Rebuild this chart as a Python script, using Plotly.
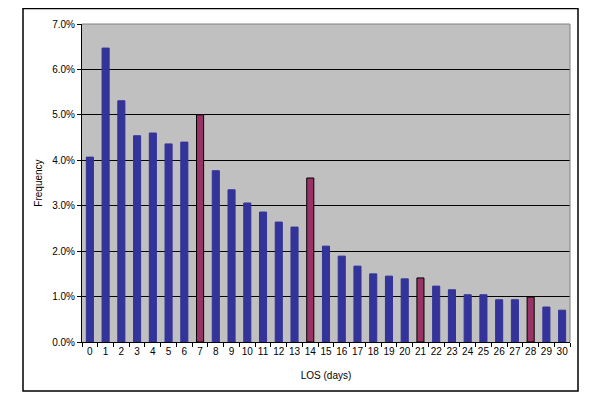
import plotly.graph_objects as go

los_days = [str(i) for i in range(31)]
frequency_pct = [4.07, 6.47, 5.31, 4.54, 4.60, 4.36, 4.40, 5.00, 3.77, 3.35,
                 3.06, 2.86, 2.64, 2.53, 3.61, 2.11, 1.89, 1.67, 1.50, 1.45,
                 1.39, 1.41, 1.23, 1.15, 1.04, 1.04, 0.93, 0.93, 0.99, 0.77, 0.70]
weekly_days = ["7", "14", "21", "28"]
y_ticks = [0, 0.01, 0.02, 0.03, 0.04, 0.05, 0.06, 0.07]

BLUE = "#333399"
MAROON = "#993366"

values = [v / 100 for v in frequency_pct]
colors = [MAROON if d in weekly_days else BLUE for d in los_days]
line_colors = ["#000000" if d in weekly_days else BLUE for d in los_days]

fig = go.Figure(go.Bar(
    x=los_days, y=values,
    marker=dict(color=colors, line=dict(color=line_colors, width=1)),
    hoverinfo="x+y",
))

font = dict(family="Liberation Sans, Arial, sans-serif", size=10, color="#000000")

fig.update_layout(
    width=592, height=390,
    margin=dict(l=74, r=30, t=16, b=56, autoexpand=False),
    paper_bgcolor="#FFFFFF",
    plot_bgcolor="#C0C0C0",
    bargap=0.55,
    showlegend=False,
    font=font,
    xaxis=dict(
        type="category",
        automargin=False,
        showgrid=False,
        showline=True, linecolor="#000000", linewidth=1,
        ticks="outside", tickson="boundaries", ticklen=4, tickcolor="#000000",
        tickangle=0,
        tickfont=dict(size=10),
        title=dict(text="LOS (days)", font=dict(size=10), standoff=15),
    ),
    yaxis=dict(
        range=[0, 0.07],
        automargin=False,
        tickvals=y_ticks, tickformat=".1%",
        showgrid=True, gridcolor="#000000", gridwidth=1,
        showline=True, linecolor="#000000", linewidth=1,
        ticks="outside", ticklen=4, tickcolor="#000000",
        tickfont=dict(size=10),
        zeroline=False,
        title=dict(text="Frequency", font=dict(size=10), standoff=7),
    ),
    shapes=[
        dict(type="line", xref="paper", yref="paper", x0=0, x1=1, y0=1, y1=1,
             line=dict(color="#808080", width=1), layer="above"),
        dict(type="line", xref="paper", yref="paper", x0=1, x1=1, y0=0, y1=1,
             line=dict(color="#808080", width=1), layer="above"),
        dict(type="rect", xref="paper", yref="paper",
             x0=-0.1209, x1=1.0164, y0=-0.154, y1=1.0487,
             line=dict(color="#000000", width=1.5), fillcolor="rgba(0,0,0,0)"),
    ],
)

fig.write_html("out.html")
